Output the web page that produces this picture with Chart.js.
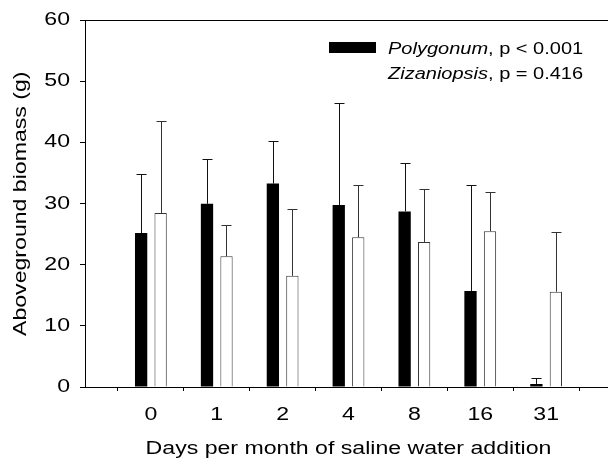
<!DOCTYPE html>
<html>
<head>
<meta charset="utf-8">
<script src="https://cdn.jsdelivr.net/npm/chart.js@4.4.1/dist/chart.umd.min.js"></script>
<style>
  html, body { margin: 0; padding: 0; background: #fff; overflow: hidden; }
  #wrap { width: 612px; height: 468px; }
</style>
</head>
<body>
<div id="wrap"><canvas id="c" width="612" height="468"></canvas></div>
<script>
// ---- data ----
const categories = ['0', '1', '2', '4', '8', '16', '31'];
const seriesNames = ['Polygonum', 'Zizaniopsis'];
const pValues = ['p < 0.001', 'p = 0.416'];
const polygonum = [25.2, 30.0, 33.3, 29.8, 28.75, 15.7, 0.5];
const polygonumErr = [9.7, 7.4, 6.9, 16.7, 7.85, 17.35, 0.95];
const zizaniopsis = [28.5, 21.4, 18.2, 24.5, 23.75, 25.5, 15.6];
const zizaniopsisErr = [15.05, 5.2, 10.9, 8.55, 8.6, 6.4, 9.8];
const yTicks = [0, 10, 20, 30, 40, 50, 60];

const errors = [polygonumErr, zizaniopsisErr];
const AXIS_SX = 1.32;   // horizontal text stretch seen in the reference
const LEGEND_SX = 1.25;

// horizontal stretch of text glyphs (reference text is wide)
function patchCtx(ctx) {
  ctx.__sx = AXIS_SX;
  ctx.fillText = function (t, x, y, mw) {
    const s = this.__sx;
    this.save();
    this.translate(x, y);
    this.scale(s, 1);
    if (mw !== undefined && mw !== null) CanvasRenderingContext2D.prototype.fillText.call(this, t, 0, 0, mw / s);
    else CanvasRenderingContext2D.prototype.fillText.call(this, t, 0, 0);
    this.restore();
  };
  ctx.measureText = function (t) {
    const m = CanvasRenderingContext2D.prototype.measureText.call(this, t);
    const s = this.__sx;
    return {
      width: m.width * s,
      actualBoundingBoxLeft: m.actualBoundingBoxLeft * s,
      actualBoundingBoxRight: m.actualBoundingBoxRight * s,
      actualBoundingBoxAscent: m.actualBoundingBoxAscent,
      actualBoundingBoxDescent: m.actualBoundingBoxDescent,
      fontBoundingBoxAscent: m.fontBoundingBoxAscent,
      fontBoundingBoxDescent: m.fontBoundingBoxDescent
    };
  };
}

const errorBars = {
  id: 'errorBars',
  afterDatasetsDraw(chart) {
    const ctx = chart.ctx;
    const ys = chart.scales.y;
    ctx.save();
    ctx.lineWidth = 1;
    chart.data.datasets.forEach((ds, di) => {
      const meta = chart.getDatasetMeta(di);
      ctx.strokeStyle = ds.errorColor;
      meta.data.forEach((bar, i) => {
        const v = ds.data[i].y;
        const top = Math.round(ys.getPixelForValue(v + errors[di][i])) + 0.5;
        const x = Math.round(bar.x) + 0.5;
        ctx.beginPath();
        ctx.moveTo(x, bar.y);
        ctx.lineTo(x, top);
        ctx.moveTo(x - 5, top);
        ctx.lineTo(x + 5, top);
        ctx.stroke();
      });
    });
    ctx.restore();
  }
};

const legendBox = {
  id: 'legendBox',
  afterDraw(chart) {
    const ctx = chart.ctx;
    ctx.save();
    const x0 = 329, tx = 388;
    const rows = [42, 67];
    const bases = [53.5, 78.5];
    chart.data.datasets.forEach((ds, i) => {
      ctx.fillStyle = ds.backgroundColor;
      ctx.fillRect(x0, rows[i], 47, 11);
      ctx.__sx = LEGEND_SX;
      ctx.fillStyle = '#000';
      ctx.textAlign = 'left';
      ctx.textBaseline = 'alphabetic';
      ctx.font = 'italic 16px "Liberation Sans"';
      ctx.fillText(ds.label, tx, bases[i]);
      const w = ctx.measureText(ds.label).width;
      ctx.font = '16px "Liberation Sans"';
      ctx.fillText(', ' + pValues[i], tx + w, bases[i]);
    });
    ctx.__sx = AXIS_SX;
    ctx.restore();
  }
};

const canvas = document.getElementById('c');
const ctx = canvas.getContext('2d');
patchCtx(ctx);

Chart.defaults.font.family = '"Liberation Sans", Arial, sans-serif';
Chart.defaults.font.size = 17.5;
Chart.defaults.color = '#000';

new Chart(ctx, {
  type: 'bar',
  data: {
    datasets: [
      {
        label: seriesNames[0],
        data: polygonum.map((v, i) => ({ x: i, y: v })),
        backgroundColor: '#000000',
        borderColor: '#000000',
        borderWidth: 0,
        errorColor: '#111',
        categoryPercentage: 0.592,
        barPercentage: 0.63
      },
      {
        label: seriesNames[1],
        data: zizaniopsis.map((v, i) => ({ x: i, y: v })),
        backgroundColor: '#ffffff',
        borderColor: '#333333',
        borderWidth: 1,
        errorColor: '#333',
        categoryPercentage: 0.592,
        barPercentage: 0.63
      }
    ]
  },
  options: {
    responsive: false,
    animation: false,
    layout: { padding: { top: 16, right: 0, bottom: 0, left: 0 } },
    plugins: { legend: { display: false }, tooltip: { enabled: false } },
    scales: {
      x: {
        type: 'linear',
        min: -1,
        max: 7,
        offset: false,
        afterBuildTicks: (axis) => { axis.ticks = categories.map((c, i) => ({ value: i })); },
        afterFit: (s) => { s.height = 81; },
        ticks: {
          padding: 14,
          autoSkip: false,
          maxRotation: 0,
          callback: (v) => categories[v]
        },
        grid: { drawOnChartArea: false, drawTicks: true, tickLength: 4, color: '#000', tickColor: '#000' },
        border: { display: true, color: '#000', width: 1 },
        title: {
          display: true,
          text: 'Days per month of saline water addition',
          padding: { top: 0, bottom: 8 }
        }
      },
      y: {
        min: 0,
        max: 60,
        afterBuildTicks: (axis) => { axis.ticks = yTicks.map(v => ({ value: v })); },
        afterFit: (s) => { s.width = 85; },
        ticks: { padding: 10 },
        grid: {
          drawOnChartArea: true,
          tickLength: 5,
          color: (c) => (c.tick && c.tick.value === 60 ? '#000' : 'rgba(0,0,0,0)'),
          tickColor: '#000'
        },
        border: { display: true, color: '#000', width: 1 },
        title: {
          display: true,
          text: 'Aboveground biomass (g)',
          padding: { top: 11, bottom: 0 }
        }
      }
    }
  },
  plugins: [errorBars, legendBox]
});
</script>
</body>
</html>
